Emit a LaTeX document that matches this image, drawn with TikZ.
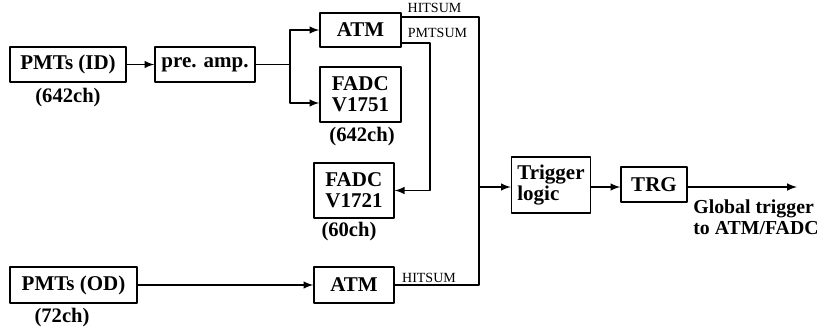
\documentclass[tikz,border=0pt]{standalone}
\usepackage{fontspec}
\setmainfont{Liberation Serif}
\begin{document}
\begin{tikzpicture}[x=0.5pt,y=-0.5pt,line cap=round,line join=round,>=latex,
  blk/.style={draw,line width=0.7pt,inner sep=1pt,align=left,
    font=\fontsize{10.5}{10.5}\selectfont\bfseries},
  lbl/.style={inner sep=0pt,align=left,font=\fontsize{10.3}{10.5}\selectfont\bfseries},
  sml/.style={inner sep=0pt,font=\fontsize{7}{7}\selectfont},
  wire/.style={line width=0.7pt}]
  \useasboundingbox (0,0) rectangle (832,332);
  % boxes
  \node[blk,minimum width=58pt,minimum height=17.5pt] (pmtid) at (68,64.5) {PMTs (ID)};
  \node[blk,minimum width=50pt,minimum height=17.5pt] (preamp) at (205,64.5) {pre. amp.};
  \node[blk,minimum width=40.5pt,minimum height=17pt] (atmid) at (360.5,30) {ATM};
  \node[blk,minimum width=40.5pt,minimum height=27.5pt] (fadcid) at (360.5,94.5) {FADC\\V1751};
  \node[blk,minimum width=40pt,minimum height=27.5pt] (fadcod) at (354,190.5) {FADC\\V1721};
  \node[blk,minimum width=40pt,minimum height=18pt] (atmod) at (354,285) {ATM};
  \node[blk,minimum width=63.5pt,minimum height=18pt] (pmtod) at (73.5,285) {PMTs (OD)};
  \node[blk,minimum width=39.5pt,minimum height=28pt] (trig) at (551,185) {Trigger\\logic};
  \node[blk,minimum width=33pt,minimum height=17.5pt] (trg) at (654,184.5) {TRG};
  % labels
  \node[lbl] (nid) at (68,98) {(642ch)};
  \node[lbl] (nfid) at (362,137) {(642ch)};
  \node[lbl] (nfod) at (349,232) {(60ch)};
  \node[lbl] (nod) at (62,318) {(72ch)};
  \node[lbl,anchor=north west,font=\fontsize{9.9}{10.5}\selectfont\bfseries] (glob) at (693,199) {Global trigger\\to ATM/FADC};
  \node[sml] (hs1) at (434.5,8) {HITSUM};
  \node[sml] (ps1) at (437.5,33) {PMTSUM};
  \node[sml] (hs2) at (429,278) {HITSUM};
  % wires
  \coordinate (br) at (290,64.5);
  \coordinate (sumx) at (479,187);
  \coordinate (pmx) at (430,0);
  \coordinate (out) at (797,187);
  \draw[wire,->] (pmtid) -- (preamp);
  \draw[wire] (preamp) -- (br);
  \draw[wire,->] (br) |- (atmid.west);
  \draw[wire,->] (br) |- ([yshift=-4.25pt]fadcid.west);
  \draw[wire] ([yshift=6.5pt]atmid.east) -| (sumx) |- (atmod.east);
  \draw[wire,->] ([yshift=-6.5pt]atmid.east) -| (pmx |- fadcod.east) -- (fadcod.east);
  \draw[wire,->] (pmtod) -- (atmod);
  \draw[wire,->] (sumx) -- (sumx -| trig.west);
  \draw[wire,->] (trig.east |- sumx) -- (trg.west |- sumx);
  \draw[wire,->] (trg.east |- sumx) -- (out);
\end{tikzpicture}
\end{document}
